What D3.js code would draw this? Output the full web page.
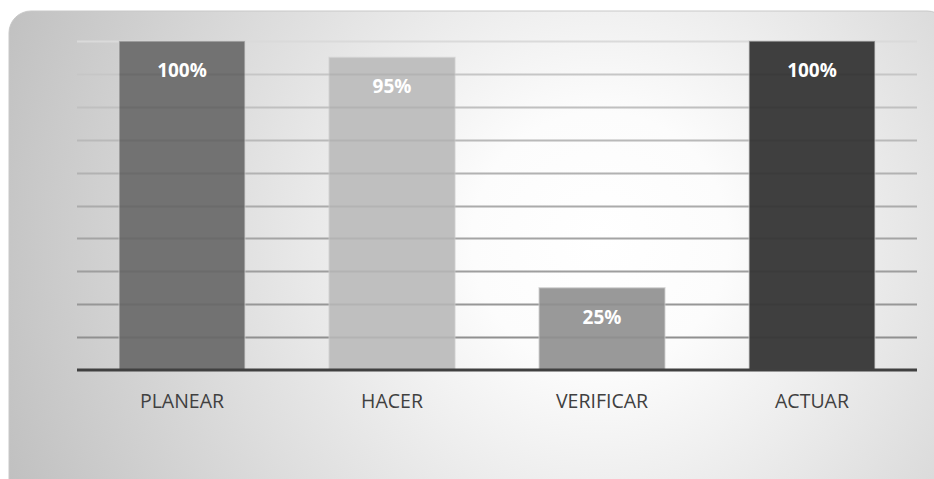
<!DOCTYPE html>
<html><head><meta charset="utf-8">
<script src="https://cdn.jsdelivr.net/npm/d3@7"></script>
<style>html,body{margin:0;padding:0;background:#fff;}svg{display:block;}</style>
</head><body>
<script>
const categories = ["PLANEAR", "HACER", "VERIFICAR", "ACTUAR"];
const values = [100, 95, 25, 100];
const valueLabels = ["100%", "95%", "25%", "100%"];
const barColors = ["#727272", "#bfbfbf", "#999999", "#3f3f3f"];
const gridTicks = [10, 20, 30, 40, 50, 60, 70, 80, 90, 100];

const W = 934, H = 479;
const svg = d3.select("body").append("svg").attr("width", W).attr("height", H);
const defs = svg.append("defs");
const rg = defs.append("radialGradient").attr("id", "bg")
  .attr("gradientUnits", "userSpaceOnUse")
  .attr("cx", 600).attr("cy", 240).attr("r", 640);
rg.append("stop").attr("offset", "0").attr("stop-color", "#ffffff");
rg.append("stop").attr("offset", "0.2").attr("stop-color", "#fcfcfc");
rg.append("stop").attr("offset", "1").attr("stop-color", "#c0c0c0");

svg.append("rect").attr("x", 9).attr("y", 11).attr("width", 940).attr("height", 490)
  .attr("rx", 22).attr("fill", "url(#bg)").attr("stroke", "#c8c8c8").attr("stroke-width", 1);

const x = d3.scaleBand().domain(categories).range([77, 917]).paddingInner(0.4).paddingOuter(0.2);
const y = d3.scaleLinear().domain([0, 100]).range([370, 41]);

const gridCol = d3.scaleLinear().domain([100, 10]).range(["#dadada", "#9a9a9a"]);
svg.append("g").selectAll("line").data(gridTicks).join("line")
  .attr("x1", 77).attr("x2", 917)
  .attr("y1", d => Math.round(y(d)) + 0.5).attr("y2", d => Math.round(y(d)) + 0.5)
  .attr("stroke", d => gridCol(d)).attr("stroke-width", 2);

svg.append("g").selectAll("rect").data(categories).join("rect")
  .attr("x", d => x(d)).attr("width", x.bandwidth())
  .attr("y", (d, i) => y(values[i])).attr("height", (d, i) => y(0) - y(values[i]))
  .attr("fill", (d, i) => barColors[i])
  .attr("stroke", "#d0d0d0").attr("stroke-opacity", 0.6).attr("stroke-width", 1.5);

// gridlines faintly visible through bars
svg.append("g").selectAll("line").data(gridTicks.filter(d => d < 100)).join("line")
  .attr("x1", 77).attr("x2", 917)
  .attr("y1", d => Math.round(y(d)) + 0.5).attr("y2", d => Math.round(y(d)) + 0.5)
  .attr("stroke", "#000").attr("stroke-opacity", 0.06).attr("stroke-width", 2);

svg.append("line").attr("x1", 77).attr("x2", 917).attr("y1", y(0)).attr("y2", y(0))
  .attr("stroke", "#404040").attr("stroke-width", 3);

svg.append("g").selectAll("text").data(categories).join("text")
  .attr("x", d => x(d) + x.bandwidth() / 2).attr("y", (d, i) => y(values[i]) + 36)
  .attr("text-anchor", "middle").attr("fill", "#ffffff")
  .attr("font-family", "'Open Sans', 'Noto Sans', sans-serif").attr("font-weight", "bold").attr("font-size", 19)
  .text((d, i) => valueLabels[i]);

const xAxis = svg.append("g").attr("transform", `translate(0,${y(0)})`)
  .call(d3.axisBottom(x).tickSize(0).tickPadding(0));
xAxis.select(".domain").remove();
xAxis.selectAll("text").attr("dy", null).attr("y", 38).attr("fill", "#404040").attr("font-size", 19.5)
  .attr("font-family", "'Open Sans', 'Noto Sans', sans-serif");
</script>
</body></html>
